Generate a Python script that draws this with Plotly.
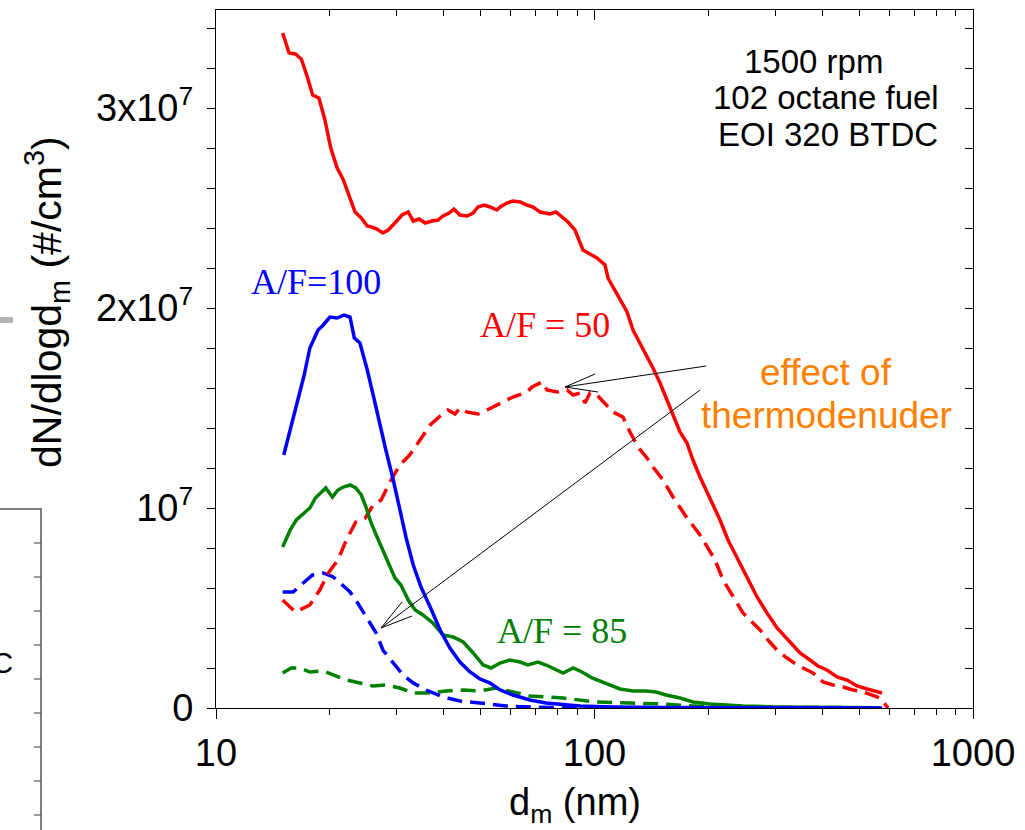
import plotly.graph_objects as go

# ---------------- data (d_m in nm, dN/dlogd_m in units of 1e7 #/cm3) ----------------
red_solid_d = [15.0, 15.6, 16.2, 16.8, 17.4, 18.0, 18.7, 19.4, 20.1, 20.9, 21.7, 22.5, 23.3, 24.2,
               25.1, 25.8, 26.6, 27.6, 28.5, 29.7, 31.0, 32.2, 33.2, 34.4, 35.7, 37.2, 38.6, 39.8,
               41.3, 42.5, 44.1, 46.0, 47.8, 49.2, 51.1, 53.0, 55.2, 56.3, 58.7, 60.9, 63.6, 66.3,
               68.8, 71.8, 74.0, 76.3, 79.1, 82.1, 85.1, 88.8, 90.4, 93.2, 101.5, 106.6, 108.6,
               111.9, 116.8, 121.9, 126.4, 131.9, 137.6, 142.7, 149.0, 155.4, 161.2, 168.2, 175.5,
               182.0, 190.0, 201.9, 214.6, 225.3, 239.4, 252.9, 268.8, 285.6, 303.6, 328.5, 349.1,
               370.9, 389.4, 411.4, 437.3, 464.7, 493.8, 524.8, 567.9, 575.0]
red_solid_n = [3.375, 3.275, 3.27, 3.245, 3.16, 3.065, 3.05, 2.94, 2.80, 2.70, 2.64, 2.555, 2.48, 2.45,
               2.41, 2.405, 2.395, 2.375, 2.39, 2.425, 2.465, 2.48, 2.435, 2.445, 2.425, 2.435, 2.44, 2.46,
               2.475, 2.495, 2.465, 2.46, 2.475, 2.505, 2.515, 2.505, 2.49, 2.505, 2.525, 2.535, 2.53, 2.515,
               2.505, 2.48, 2.475, 2.47, 2.48, 2.455, 2.43, 2.39, 2.35, 2.29, 2.25, 2.215, 2.15,
               2.105, 2.04, 1.98, 1.89, 1.825, 1.755, 1.70, 1.625, 1.54, 1.455, 1.38, 1.325,
               1.24, 1.155, 1.05, 0.94, 0.84, 0.74, 0.655, 0.555, 0.475, 0.40, 0.33, 0.275,
               0.24, 0.21, 0.19, 0.155, 0.14, 0.11, 0.095, 0.075, 0.075]

red_dash_d = [15.0, 16.2, 17.7, 18.8, 19.8, 21.0, 22.1, 23.4, 24.8, 26.0, 27.3, 29.0, 30.6, 32.5,
              34.6, 36.8, 39.1, 41.0, 42.8, 44.1, 46.0, 49.2, 52.0, 56.3, 60.9, 66.3, 68.4, 72.7,
              74.9, 79.6, 84.6, 87.8, 91.6, 94.4, 97.3, 101.5, 106.6, 111.9, 118.9, 124.1, 130.3,
              137.6, 142.7, 151.7, 161.2, 173.4, 190.0, 208.2, 218.6, 232.2, 246.8, 260.7, 273.8,
              287.3, 303.6, 322.6, 342.8, 364.3, 377.8, 401.6, 426.8, 453.5, 482.0, 512.2, 544.3,
              567.9, 596.4]
red_dash_n = [0.54, 0.48, 0.515, 0.59, 0.675, 0.74, 0.84, 0.93, 0.95, 1.015, 1.04, 1.14, 1.215, 1.265,
              1.34, 1.415, 1.46, 1.49, 1.47, 1.50, 1.48, 1.47, 1.49, 1.525, 1.555, 1.58, 1.605, 1.63,
              1.59, 1.58, 1.59, 1.565, 1.575, 1.525, 1.575, 1.565, 1.525, 1.48, 1.455, 1.38, 1.305,
              1.25, 1.205, 1.14, 1.055, 0.965, 0.865, 0.74, 0.64, 0.555, 0.475, 0.43, 0.39,
              0.34, 0.29, 0.25, 0.215, 0.19, 0.175, 0.13, 0.115, 0.105, 0.09, 0.08, 0.065,
              0.05, 0.0]

blue_solid_d = [15.1, 15.7, 16.4, 17.1, 17.7, 18.6, 19.1, 20.0, 20.9, 21.8, 22.6, 23.2, 24.0, 25.1,
                26.2, 27.1, 28.1, 29.4, 30.6, 31.8, 33.2, 34.8, 36.8, 39.1, 41.5, 44.1, 46.9, 49.8,
                53.0, 56.3, 60.9, 67.5, 74.5, 91.6, 111.9, 151.7, 300.0, 575.0]
blue_solid_n = [1.265, 1.39, 1.515, 1.665, 1.80, 1.89, 1.91, 1.955, 1.95, 1.965, 1.955, 1.85, 1.825, 1.69,
                1.54, 1.415, 1.29, 1.14, 0.99, 0.85, 0.715, 0.605, 0.505, 0.39, 0.30, 0.23, 0.18, 0.145,
                0.125, 0.09, 0.065, 0.04, 0.025, 0.01, 0.005, 0.002, 0.001, 0.0005]

blue_dash_d = [15.0, 16.0, 17.0, 18.0, 19.2, 20.4, 21.3, 22.6, 23.4, 24.9, 26.5, 27.6, 29.4, 31.2,
               33.2, 35.9, 39.8, 44.1, 49.8, 58.4, 67.5, 82.6, 200.0, 575.0]
blue_dash_n = [0.58, 0.58, 0.625, 0.665, 0.675, 0.655, 0.625, 0.58, 0.54, 0.455, 0.375, 0.29, 0.225, 0.165,
               0.125, 0.09, 0.055, 0.035, 0.025, 0.01, 0.005, 0.002, 0.001, 0.0005]

green_solid_d = [15.0, 15.7, 16.3, 17.2, 17.7, 18.3, 18.9, 19.5, 20.3, 21.0, 21.7, 22.6, 23.4, 24.2,
                 24.9, 25.7, 26.5, 27.6, 28.8, 29.7, 30.8, 32.2, 33.6, 35.2, 37.4, 39.8, 42.3, 45.0,
                 47.8, 50.8, 53.3, 56.3, 59.8, 63.6, 66.7, 70.9, 74.5, 79.1, 82.6, 87.8, 92.7, 98.5,
                 106.6, 116.8, 126.4, 136.8, 145.4, 154.5, 168.2, 182.0, 201.9, 246.8, 303.6, 411.4, 567.9]
green_solid_n = [0.805, 0.89, 0.94, 0.98, 1.00, 1.05, 1.075, 1.10, 1.055, 1.09, 1.105, 1.115, 1.10, 1.065,
                 1.005, 0.925, 0.865, 0.79, 0.715, 0.65, 0.615, 0.54, 0.49, 0.465, 0.425, 0.365, 0.355, 0.33,
                 0.275, 0.215, 0.20, 0.225, 0.24, 0.23, 0.215, 0.23, 0.215, 0.19, 0.175, 0.20, 0.18, 0.15,
                 0.125, 0.095, 0.085, 0.085, 0.08, 0.065, 0.05, 0.03, 0.02, 0.01, 0.005, 0.003, 0.001]

green_dash_d = [15.0, 15.8, 16.7, 17.7, 19.2, 20.4, 22.1, 24.0, 26.0, 28.1, 30.6, 33.2, 36.8, 40.5,
                45.0, 49.8, 54.9, 60.9, 67.5, 82.6, 100.9, 124.1, 151.7, 201.9, 273.8, 567.9]
green_dash_n = [0.175, 0.20, 0.20, 0.18, 0.185, 0.165, 0.14, 0.125, 0.11, 0.115, 0.10, 0.075, 0.075, 0.085,
                0.09, 0.085, 0.10, 0.08, 0.06, 0.05, 0.03, 0.025, 0.02, 0.005, 0.005, 0.001]

SCALE = 1e7  # values above are in units of 1e7 #/cm3

y_tickvals = [0, 1e7, 2e7, 3e7]
y_ticktext = ["0", "10<sup>7</sup>", "2x10<sup>7</sup>", "3x10<sup>7</sup>"]
x_tickvals = [10, 100, 1000]
x_ticktext = ["10", "100", "1000"]
x_minor = [20, 30, 40, 50, 60, 70, 80, 90, 200, 300, 400, 500, 600, 700, 800, 900]

RED, BLUE, GREEN, ORANGE = "#FF0000", "#0000FF", "#008000", "#FF8000"
SANS = "Liberation Sans, Arial, sans-serif"
SERIF = "Liberation Serif, Times New Roman, serif"

# ---------------- layout geometry (pixels) ----------------
W, H = 1025, 830
L, R, T, B = 216, 973, 10, 708


def px(x):
    return (x - L) / (R - L)


def py(y):
    return (B - y) / (B - T)


fig = go.Figure()


def add(d, n, color, dash):
    fig.add_trace(go.Scatter(
        x=d, y=[v * SCALE for v in n], mode="lines",
        line=dict(color=color, width=3.5, dash=dash),
        showlegend=False, hoverinfo="skip"))


DASH = "15px,8px"
add(green_dash_d, green_dash_n, GREEN, DASH)
add(blue_dash_d, blue_dash_n, BLUE, DASH)
add(red_dash_d, red_dash_n, RED, DASH)
add(green_solid_d, green_solid_n, GREEN, "solid")
add(blue_solid_d, blue_solid_n, BLUE, "solid")
add(red_solid_d, red_solid_n, RED, "solid")

yr = [0, 3.49e7]

fig.update_layout(
    width=W, height=H,
    margin=dict(l=L, r=W - R, t=T, b=H - B, pad=0),
    paper_bgcolor="white", plot_bgcolor="white",
    font=dict(family=SANS, color="black"),
    xaxis=dict(type="log", range=[1, 3], showgrid=False, zeroline=False,
               showline=True, linecolor="black", linewidth=1.2,
               ticks="outside", ticklen=10, tickwidth=1.2, tickcolor="black",
               tickmode="array", tickvals=x_tickvals, ticktext=x_ticktext,
               tickfont=dict(size=38, family=SANS), ticklabelstandoff=1,
               minor=dict(tickmode="array", tickvals=x_minor, ticks="outside",
                          ticklen=6, tickwidth=1.2, tickcolor="black")),
    yaxis=dict(range=yr, showgrid=False, zeroline=False,
               showline=True, linecolor="black", linewidth=1.2,
               ticks="outside", ticklen=8, tickwidth=1.2, tickcolor="black",
               tickmode="array", tickvals=y_tickvals, ticktext=y_ticktext,
               tickfont=dict(size=38, family=SANS), ticklabelstandoff=6,
               minor=dict(tickmode="linear", tick0=0, dtick=2e6, ticks="outside",
                          ticklen=8, tickwidth=1.2, tickcolor="black")),
    xaxis2=dict(type="log", range=[1, 3], overlaying="x", side="top", anchor="y",
                showgrid=False, zeroline=False, showline=True, linecolor="black", linewidth=1.2,
                ticks="inside", ticklen=10, tickwidth=1.2, tickcolor="black",
                tickmode="array", tickvals=x_tickvals, showticklabels=False,
                minor=dict(tickmode="array", tickvals=x_minor, ticks="inside",
                           ticklen=6, tickwidth=1.2, tickcolor="black")),
    yaxis2=dict(range=yr, overlaying="y", side="right", anchor="x",
                showgrid=False, zeroline=False, showline=True, linecolor="black", linewidth=1.2,
                ticks="inside", ticklen=8, tickwidth=1.2, tickcolor="black",
                tickmode="array", tickvals=y_tickvals, showticklabels=False,
                minor=dict(tickmode="linear", tick0=0, dtick=2e6, ticks="inside",
                           ticklen=8, tickwidth=1.2, tickcolor="black")),
)
# invisible traces so the mirrored axes are drawn
fig.add_trace(go.Scatter(x=[10], y=[0], xaxis="x2", yaxis="y", mode="markers",
                         marker=dict(opacity=0), showlegend=False, hoverinfo="skip"))
fig.add_trace(go.Scatter(x=[10], y=[0], xaxis="x", yaxis="y2", mode="markers",
                         marker=dict(opacity=0), showlegend=False, hoverinfo="skip"))

ann = []


def text(x, y, s, size, color="black", family=SANS, angle=0, xanchor="center"):
    ann.append(dict(x=px(x), y=py(y), xref="paper", yref="paper", text=s, showarrow=False,
                    font=dict(size=size, color=color, family=family), textangle=angle,
                    xanchor=xanchor, yanchor="middle"))


text(813, 62, "1500 rpm", 33)
text(826, 98, "102 octane fuel", 33)
text(828, 134, "EOI 320 BTDC", 33)
text(316, 282, "A/F=100", 36, BLUE, SERIF)
text(545, 325, "A/F = 50", 36, RED, SERIF)
text(562, 631, "A/F = 85", 36, GREEN, SERIF)
text(826, 372, "effect of", 37, ORANGE)
text(826, 416, "thermodenuder", 37, ORANGE)
text(575, 805, "d<sub>m</sub> (nm)", 38)
text(47, 302, "dN/dlogd<sub>m</sub> (#/cm<sup>3</sup>)", 41, angle=-90)
# fragment of neighbouring panel text
text(15, 662, "EOI 320 BTDC", 30, xanchor="right")

fig.update_layout(annotations=ann)

shapes = []
# arrows (thin black lines with open heads)
for tail, tip, b1, b2 in [((706, 366), (565, 387), (595, 374), (598, 392)),
                          ((700, 390), (381, 628), (402, 602), (412, 616))]:
    shapes.append(dict(type="line", xref="paper", yref="paper",
                       x0=px(tail[0]), y0=py(tail[1]), x1=px(tip[0]), y1=py(tip[1]),
                       line=dict(color="black", width=1)))
    shapes.append(dict(type="path", xref="paper", yref="paper",
                       path=f"M {px(b1[0])} {py(b1[1])} L {px(tip[0])} {py(tip[1])} L {px(b2[0])} {py(b2[1])}",
                       line=dict(color="black", width=1)))
# fragments of the neighbouring panel at the left edge
shapes.append(dict(type="rect", xref="paper", yref="paper",
                   x0=px(0), x1=px(13), y0=py(323), y1=py(317),
                   fillcolor="#B4B4B4", line=dict(width=0)))
shapes.append(dict(type="rect", xref="paper", yref="paper",
                   x0=px(-30), x1=px(41), y0=py(850), y1=py(509),
                   fillcolor="rgba(0,0,0,0)", line=dict(color="#555555", width=1.5)))
for yy in [543, 577, 611, 645, 679, 713, 747, 781, 815]:
    shapes.append(dict(type="line", xref="paper", yref="paper",
                       x0=px(34), x1=px(41), y0=py(yy), y1=py(yy),
                       line=dict(color="#555555", width=1.2)))
fig.update_layout(shapes=shapes)

fig.write_html("out.html")
